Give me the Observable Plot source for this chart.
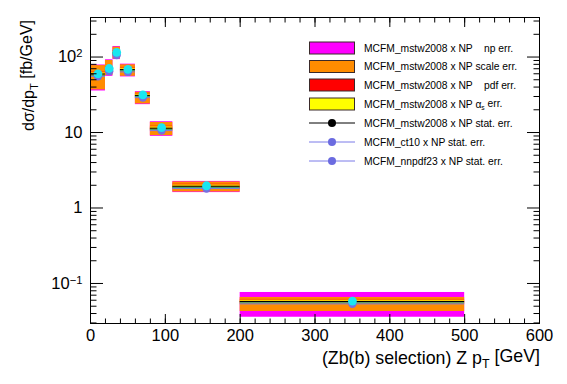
<!DOCTYPE html>
<html><head><meta charset="utf-8">
<script src="https://cdn.jsdelivr.net/npm/d3@7"></script>
<script src="https://cdn.jsdelivr.net/npm/@observablehq/plot@0.6"></script>
<style>
body{margin:0;background:#fff;}
#chart{position:relative;width:567px;height:384px;}
text{white-space:pre;}
</style></head><body><div id="chart"></div>
<script>
// Bin edges (GeV)
const binLo = [0, 20, 30, 40, 60, 80, 110, 200];
const binHi = [20, 30, 40, 60, 80, 110, 200, 500];
// MCFM_mstw2008 x NP central values (fb/GeV)
const central = [59.6, 69.7, 113.7, 68.2, 31.0, 11.4, 1.94, 0.0577];
// total (np) band
const npLo = [35.5, 55.5, 92.5, 54.5, 23.4, 8.9, 1.60, 0.0357];
const npHi = [78.5, 92.0, 138, 80.5, 34.8, 13.9, 2.25, 0.0760];
// scale band
const scaleLo = [36.7, 56.9, 94.6, 55.6, 23.9, 9.1, 1.63, 0.0426];
const scaleHi = [77.0, 90.0, 135, 78.9, 34.1, 13.6, 2.21, 0.0653];
// pdf band
const pdfLo = [55.4, 64.8, 105.7, 63.4, 28.8, 10.6, 1.80, 0.0537];
const pdfHi = [63.8, 74.6, 121.7, 73.0, 33.2, 12.2, 2.08, 0.0617];
// alpha_s band
const asLo = [57.2, 66.9, 109.2, 65.5, 29.8, 10.9, 1.86, 0.0554];
const asHi = [62.0, 72.5, 118.2, 70.9, 32.2, 11.9, 2.02, 0.0600];
// other PDF sets
const ct10 = [55.5, 65.0, 106, 63.5, 29.0, 10.6, 1.81, 0.0537];
const nnpdf = [57.5, 67.5, 110, 66.0, 30.0, 11.0, 1.87, 0.0556];
const cyanPts = [60.0, 70.5, 115, 68.8, 31.5, 11.6, 1.97, 0.0585];

const xMajor = [0, 100, 200, 300, 400, 500, 600];
const xMinor = d3.range(0, 601, 20);
const yMajor = [0.1, 1, 10, 100];
const yMinor = [0.03,0.04,0.05,0.06,0.07,0.08,0.09,0.2,0.3,0.4,0.5,0.6,0.7,0.8,0.9,2,3,4,5,6,7,8,9,20,30,40,50,60,70,80,90,200,300];
const yLabels = {0.1: "10^-1", 1: "1", 10: "10", 100: "10^2"};

const legendLabels = [
  "MCFM_mstw2008 x NP    np err.",
  "MCFM_mstw2008 x NP scale err.",
  "MCFM_mstw2008 x NP    pdf err.",
  "MCFM_mstw2008 x NP |as| err.",
  "MCFM_mstw2008 x NP stat. err.",
  "MCFM_ct10 x NP stat. err.",
  "MCFM_nnpdf23 x NP stat. err."
];
const colMag = "#ff00ff", colOr = "#ff8c00", colRed = "#ff0000", colYel = "#ffff00";
const colLilac = "#7b7be8", colCyan = "#1ae6f0", colPurple = "#7670e0";

const bins = binLo.map((lo, i) => ({
  lo, hi: binHi[i], mid: (lo + binHi[i]) / 2, c: central[i],
  npLo: npLo[i], npHi: npHi[i], scLo: scaleLo[i], scHi: scaleHi[i],
  pdLo: pdfLo[i], pdHi: pdfHi[i], aLo: asLo[i], aHi: asHi[i],
  ct10: ct10[i], nnpdf: nnpdf[i], cy: cyanPts[i]
}));

const font = "'Liberation Sans', Arial, Helvetica, sans-serif";
const blank = () => "";
const plot = Plot.plot({
  width: 567, height: 384,
  marginLeft: 90, marginRight: 28, marginTop: 17, marginBottom: 61,
  style: {fontFamily: font, fontSize: "16.5px", color: "#000", background: "#fff"},
  x: {domain: [0, 600], label: null},
  y: {type: "log", domain: [0.0295, 334], label: null},
  marks: [
    Plot.rect(bins, {x1: "lo", x2: "hi", y1: "npLo", y2: "npHi", fill: colMag}),
    Plot.rect(bins, {x1: "lo", x2: "hi", y1: "scLo", y2: "scHi", fill: colOr}),
    Plot.rect(bins, {x1: "lo", x2: "hi", y1: "pdLo", y2: "pdHi", fill: colRed, fillOpacity: 0.45}),
    Plot.rect(bins, {x1: "lo", x2: "hi", y1: "aLo", y2: "aHi", fill: colYel, fillOpacity: 0.7}),
    Plot.ruleY(bins, {x1: "lo", x2: "hi", y: "ct10", stroke: colLilac, strokeWidth: 1}),
    Plot.ruleY(bins, {x1: "lo", x2: "hi", y: "nnpdf", stroke: "#3aa87a", strokeWidth: 1}),
    Plot.ruleY(bins, {x1: "lo", x2: "hi", y: "c", stroke: "#000", strokeWidth: 1}),
    Plot.dot(bins, {x: "mid", y: "ct10", r: 4.2, fill: colPurple}),
    Plot.dot(bins, {x: "mid", y: "cy", r: 4.4, fill: colCyan}),
    Plot.frame({stroke: "#000"}),
    Plot.axisX(xMajor, {anchor: "bottom", tickSize: 0, tickPadding: 6, label: null, fontSize: 16.5}),
    Plot.axisX(xMajor, {anchor: "bottom", tickSize: 9, dy: -9, tickFormat: blank, label: null}),
    Plot.axisX(xMinor, {anchor: "bottom", tickSize: 4.5, dy: -4.5, tickFormat: blank, label: null}),
    Plot.axisX(xMajor, {anchor: "top", tickSize: 9, dy: 9, tickFormat: blank, label: null}),
    Plot.axisX(xMinor, {anchor: "top", tickSize: 4.5, dy: 4.5, tickFormat: blank, label: null}),
    Plot.axisY(yMajor, {anchor: "left", tickSize: 0, tickPadding: 8, tickFormat: d => yLabels[d], label: null, fontSize: 16.5}),
    Plot.axisY(yMajor, {anchor: "left", tickSize: 13, dx: 13, tickFormat: blank, label: null}),
    Plot.axisY(yMinor, {anchor: "left", tickSize: 6.5, dx: 6.5, tickFormat: blank, label: null}),
    Plot.axisY(yMajor, {anchor: "right", tickSize: 13, dx: -13, tickFormat: blank, label: null}),
    Plot.axisY(yMinor, {anchor: "right", tickSize: 6.5, dx: -6.5, tickFormat: blank, label: null})
  ]
});
document.getElementById("chart").appendChild(plot);
const svg = d3.select(plot);

// superscripts on y tick labels
svg.selectAll("text").each(function() {
  const t = d3.select(this);
  const s = this.textContent;
  if (s.includes("^")) {
    const [base, sup] = s.split("^");
    t.text(base);
    t.append("tspan").attr("dy", "-0.45em").attr("font-size", "0.68em").text(sup.replace("-", "\u2212"));
  }
});

// axis titles
const xt = svg.append("text").attr("x", 540).attr("y", 364).attr("text-anchor", "end")
  .attr("font-family", font).attr("font-size", 17.8).attr("fill", "#000");
xt.append("tspan").text("(Zb(b) selection) Z p");
xt.append("tspan").attr("dy", "0.35em").attr("font-size", "0.7em").text("T");
xt.append("tspan").attr("dy", "-0.35em").text(" [GeV]");

const yt = svg.append("text").attr("transform", "translate(34,20) rotate(-90)").attr("text-anchor", "end")
  .attr("font-family", font).attr("font-size", 16).attr("fill", "#000");
yt.append("tspan").text("d\u03c3/dp");
yt.append("tspan").attr("dy", "0.35em").attr("font-size", "0.7em").text("T");
yt.append("tspan").attr("dy", "-0.35em").text(" [fb/GeV]");

// legend
const lg = svg.append("g").attr("font-family", font).attr("font-size", 10.3).attr("text-anchor", "start");
const rowY = [48, 66.5, 85, 104, 123, 142, 161];
const boxFills = [colMag, colOr, colRed, colYel];
legendLabels.forEach((lab, i) => {
  const y = rowY[i];
  if (i < 4) {
    lg.append("rect").attr("x", 309.5).attr("y", y - 6).attr("width", 45).attr("height", 12)
      .attr("fill", boxFills[i]).attr("stroke", "#3a2a2a").attr("stroke-width", 1);
  } else {
    const c = i === 4 ? "#000" : colLilac;
    const dc = i === 4 ? "#000" : "#6b6be0";
    lg.append("line").attr("x1", 309).attr("x2", 355).attr("y1", y).attr("y2", y).attr("stroke", c).attr("stroke-width", 1);
    lg.append("circle").attr("cx", 332).attr("cy", y).attr("r", 4).attr("fill", dc);
  }
  const t = lg.append("text").attr("x", 364).attr("y", y).attr("dy", "0.35em").attr("fill", "#000").attr("text-anchor", "start");
  if (lab.includes("|as|")) {
    const [a, b] = lab.split("|as|");
    t.append("tspan").text(a);
    t.append("tspan").text("\u03b1");
    t.append("tspan").attr("dy", "0.3em").attr("font-size", "0.65em").text("s");
    t.append("tspan").attr("dy", "-0.3em").text(b);
  } else {
    t.text(lab);
  }
});
</script></body></html>
